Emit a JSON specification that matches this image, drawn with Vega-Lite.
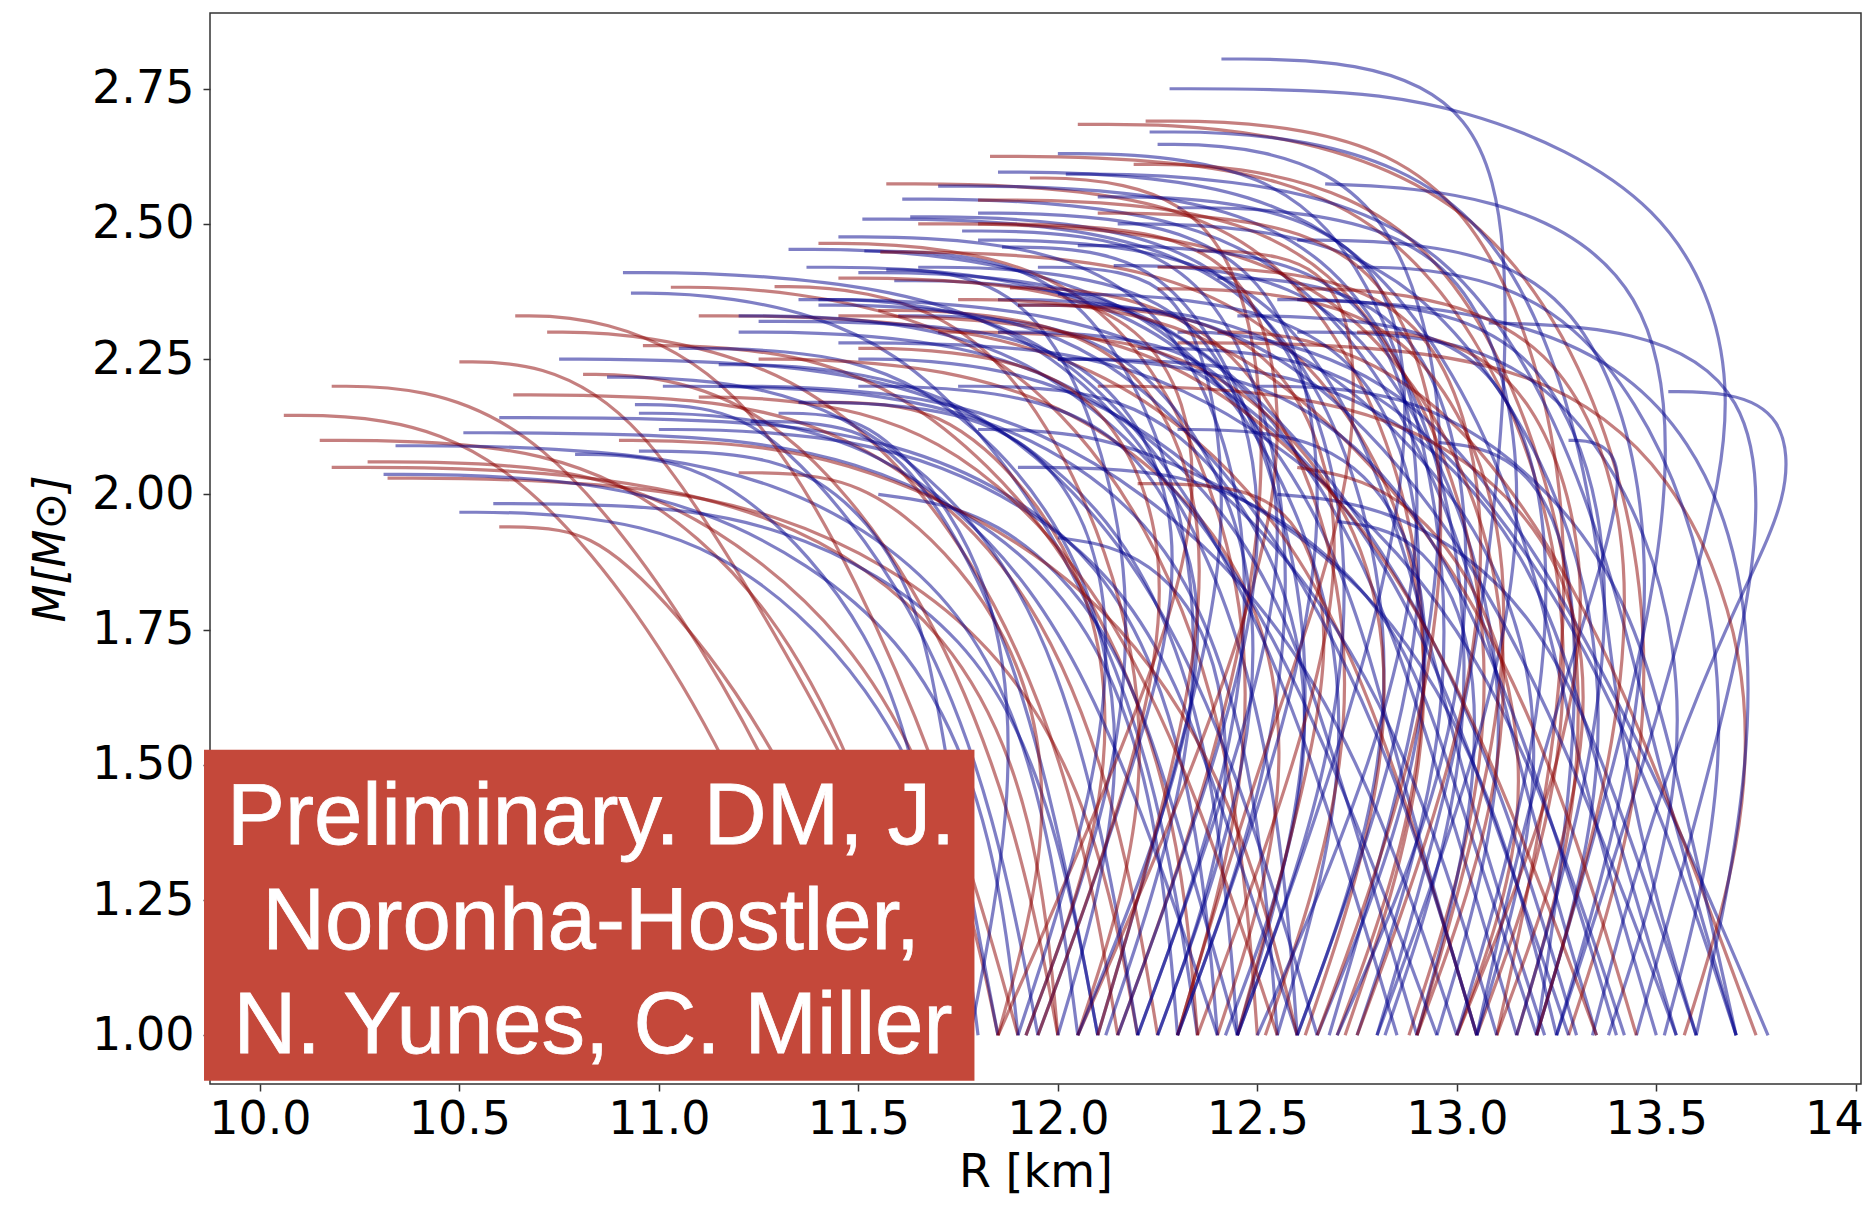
{
"$schema": "https://vega.github.io/schema/vega-lite/v6.json",
"width": 1651,
"height": 1071,
"autosize": {"type": "none"},
"padding": {"left": 210, "top": 13, "right": 4, "bottom": 121},
"background": "white",
"config": {"view": {"stroke": "#333333", "strokeWidth": 1.5}},
"datasets": {
"curves": [
{"g":"r01","k":"r","r":11.45,"m":1},{"g":"r01","k":"r","r":11.25,"m":1.4},{"g":"r01","k":"r","r":10.95,"m":1.8},{"g":"r01","k":"r","r":10.6,"m":2.08},{"g":"r01","k":"r","r":10.3,"m":2.146},{"g":"r01","k":"r","r":10.06,"m":2.146},
{"g":"r02","k":"r","r":11.7,"m":1},{"g":"r02","k":"r","r":11.55,"m":1.4},{"g":"r02","k":"r","r":11.3,"m":1.8},{"g":"r02","k":"r","r":10.9,"m":2.05},{"g":"r02","k":"r","r":10.5,"m":2.1},{"g":"r02","k":"r","r":10.15,"m":2.1},
{"g":"r03","k":"r","r":11.55,"m":1},{"g":"r03","k":"r","r":11.35,"m":1.4},{"g":"r03","k":"r","r":11.05,"m":1.8},{"g":"r03","k":"r","r":10.7,"m":2.12},{"g":"r03","k":"r","r":10.4,"m":2.2},{"g":"r03","k":"r","r":10.18,"m":2.2},
{"g":"r04","k":"r","r":12.0,"m":1},{"g":"r04","k":"r","r":11.95,"m":1.4},{"g":"r04","k":"r","r":11.75,"m":1.75},{"g":"r04","k":"r","r":11.3,"m":1.98},{"g":"r04","k":"r","r":10.7,"m":2.05},{"g":"r04","k":"r","r":10.18,"m":2.05},
{"g":"r05","k":"r","r":11.85,"m":1},{"g":"r05","k":"r","r":11.75,"m":1.35},{"g":"r05","k":"r","r":11.5,"m":1.75},{"g":"r05","k":"r","r":11.0,"m":2.02},{"g":"r05","k":"r","r":10.6,"m":2.06},{"g":"r05","k":"r","r":10.27,"m":2.06},
{"g":"r06","k":"r","r":12.2,"m":1},{"g":"r06","k":"r","r":12.1,"m":1.4},{"g":"r06","k":"r","r":11.85,"m":1.75},{"g":"r06","k":"r","r":11.3,"m":1.99},{"g":"r06","k":"r","r":10.7,"m":2.03},{"g":"r06","k":"r","r":10.32,"m":2.03},
{"g":"b01","k":"b","r":12.05,"m":1},{"g":"b01","k":"b","r":11.98,"m":1.4},{"g":"b01","k":"b","r":11.8,"m":1.8},{"g":"b01","k":"b","r":11.3,"m":2.05},{"g":"b01","k":"b","r":10.7,"m":2.09},{"g":"b01","k":"b","r":10.34,"m":2.09},
{"g":"b02","k":"b","r":11.9,"m":1},{"g":"b02","k":"b","r":11.85,"m":1.35},{"g":"b02","k":"b","r":11.65,"m":1.75},{"g":"b02","k":"b","r":11.1,"m":2.0},{"g":"b02","k":"b","r":10.6,"m":2.037},{"g":"b02","k":"b","r":10.31,"m":2.037},
{"g":"r07","k":"r","r":11.75,"m":1},{"g":"r07","k":"r","r":11.55,"m":1.4},{"g":"r07","k":"r","r":11.25,"m":1.8},{"g":"r07","k":"r","r":10.95,"m":2.15},{"g":"r07","k":"r","r":10.7,"m":2.245},{"g":"r07","k":"r","r":10.5,"m":2.245},
{"g":"b03","k":"b","r":12.3,"m":1},{"g":"b03","k":"b","r":12.25,"m":1.45},{"g":"b03","k":"b","r":12.05,"m":1.85},{"g":"b03","k":"b","r":11.5,"m":2.09},{"g":"b03","k":"b","r":10.9,"m":2.114},{"g":"b03","k":"b","r":10.51,"m":2.114},
{"g":"r08","k":"r","r":11.9,"m":1},{"g":"r08","k":"r","r":11.75,"m":1.4},{"g":"r08","k":"r","r":11.5,"m":1.85},{"g":"r08","k":"r","r":11.2,"m":2.22},{"g":"r08","k":"r","r":10.85,"m":2.33},{"g":"r08","k":"r","r":10.64,"m":2.33},
{"g":"r09","k":"r","r":12.15,"m":1},{"g":"r09","k":"r","r":12.05,"m":1.45},{"g":"r09","k":"r","r":11.8,"m":1.9},{"g":"r09","k":"r","r":11.4,"m":2.22},{"g":"r09","k":"r","r":10.95,"m":2.3},{"g":"r09","k":"r","r":10.72,"m":2.3},
{"g":"b04","k":"b","r":11.8,"m":1},{"g":"b04","k":"b","r":11.75,"m":1.3},{"g":"b04","k":"b","r":11.55,"m":1.65},{"g":"b04","k":"b","r":11.15,"m":1.92},{"g":"b04","k":"b","r":10.75,"m":1.967},{"g":"b04","k":"b","r":10.5,"m":1.967},
{"g":"b05","k":"b","r":12.1,"m":1},{"g":"b05","k":"b","r":12.0,"m":1.4},{"g":"b05","k":"b","r":11.8,"m":1.75},{"g":"b05","k":"b","r":11.3,"m":1.96},{"g":"b05","k":"b","r":10.85,"m":1.983},{"g":"b05","k":"b","r":10.585,"m":1.983},
{"g":"r10","k":"r","r":11.6,"m":1},{"g":"r10","k":"r","r":11.45,"m":1.3},{"g":"r10","k":"r","r":11.2,"m":1.65},{"g":"r10","k":"r","r":10.9,"m":1.9},{"g":"r10","k":"r","r":10.75,"m":1.94},{"g":"r10","k":"r","r":10.6,"m":1.94},
{"g":"b06","k":"b","r":12.4,"m":1},{"g":"b06","k":"b","r":12.35,"m":1.45},{"g":"b06","k":"b","r":12.15,"m":1.9},{"g":"b06","k":"b","r":11.6,"m":2.12},{"g":"b06","k":"b","r":11.0,"m":2.142},{"g":"b06","k":"b","r":10.6,"m":2.142},
{"g":"r11","k":"r","r":12.25,"m":1},{"g":"r11","k":"r","r":12.15,"m":1.45},{"g":"r11","k":"r","r":11.9,"m":1.9},{"g":"r11","k":"r","r":11.4,"m":2.16},{"g":"r11","k":"r","r":10.9,"m":2.184},{"g":"r11","k":"r","r":10.635,"m":2.184},
{"g":"b07","k":"b","r":12.45,"m":1},{"g":"b07","k":"b","r":12.4,"m":1.5},{"g":"b07","k":"b","r":12.2,"m":1.95},{"g":"b07","k":"b","r":11.7,"m":2.22},{"g":"b07","k":"b","r":11.05,"m":2.25},{"g":"b07","k":"b","r":10.75,"m":2.25},
{"g":"b08","k":"b","r":12.6,"m":1},{"g":"b08","k":"b","r":12.55,"m":1.5},{"g":"b08","k":"b","r":12.35,"m":2.0},{"g":"b08","k":"b","r":11.9,"m":2.35},{"g":"b08","k":"b","r":11.25,"m":2.41},{"g":"b08","k":"b","r":10.91,"m":2.41},
{"g":"b09","k":"b","r":12.35,"m":1},{"g":"b09","k":"b","r":12.25,"m":1.5},{"g":"b09","k":"b","r":12.0,"m":1.95},{"g":"b09","k":"b","r":11.6,"m":2.3},{"g":"b09","k":"b","r":11.15,"m":2.372},{"g":"b09","k":"b","r":10.93,"m":2.372},
{"g":"r12","k":"r","r":12.5,"m":1},{"g":"r12","k":"r","r":12.45,"m":1.5},{"g":"r12","k":"r","r":12.25,"m":1.95},{"g":"r12","k":"r","r":11.85,"m":2.3},{"g":"r12","k":"r","r":11.3,"m":2.383},{"g":"r12","k":"r","r":11.03,"m":2.383},
{"g":"r13","k":"r","r":12.0,"m":1},{"g":"r13","k":"r","r":11.9,"m":1.4},{"g":"r13","k":"r","r":11.65,"m":1.85},{"g":"r13","k":"r","r":11.3,"m":2.15},{"g":"r13","k":"r","r":11.0,"m":2.222},{"g":"r13","k":"r","r":10.81,"m":2.222},
{"g":"b10","k":"b","r":12.2,"m":1},{"g":"b10","k":"b","r":12.1,"m":1.45},{"g":"b10","k":"b","r":11.9,"m":1.9},{"g":"b10","k":"b","r":11.45,"m":2.18},{"g":"b10","k":"b","r":11.05,"m":2.217},{"g":"b10","k":"b","r":10.87,"m":2.217},
{"g":"b11","k":"b","r":11.95,"m":1},{"g":"b11","k":"b","r":11.85,"m":1.4},{"g":"b11","k":"b","r":11.65,"m":1.8},{"g":"b11","k":"b","r":11.3,"m":2.12},{"g":"b11","k":"b","r":11.1,"m":2.166},{"g":"b11","k":"b","r":10.94,"m":2.166},
{"g":"b12","k":"b","r":11.72,"m":1},{"g":"b12","k":"b","r":11.68,"m":1.4},{"g":"b12","k":"b","r":11.55,"m":1.75},{"g":"b12","k":"b","r":11.2,"m":2.03},{"g":"b12","k":"b","r":10.95,"m":2.074},{"g":"b12","k":"b","r":10.79,"m":2.074},
{"g":"r14","k":"r","r":12.35,"m":1},{"g":"r14","k":"r","r":12.3,"m":1.45},{"g":"r14","k":"r","r":12.05,"m":1.9},{"g":"r14","k":"r","r":11.6,"m":2.22},{"g":"r14","k":"r","r":11.2,"m":2.275},{"g":"r14","k":"r","r":10.96,"m":2.275},
{"g":"b13","k":"b","r":12.55,"m":1},{"g":"b13","k":"b","r":12.5,"m":1.5},{"g":"b13","k":"b","r":12.3,"m":1.95},{"g":"b13","k":"b","r":11.8,"m":2.17},{"g":"b13","k":"b","r":11.3,"m":2.2},{"g":"b13","k":"b","r":11.01,"m":2.2},
{"g":"b14","k":"b","r":12.1,"m":1},{"g":"b14","k":"b","r":12.0,"m":1.4},{"g":"b14","k":"b","r":11.85,"m":1.8},{"g":"b14","k":"b","r":11.6,"m":2.1},{"g":"b14","k":"b","r":11.4,"m":2.135},{"g":"b14","k":"b","r":11.23,"m":2.135},
{"g":"b15","k":"b","r":12.55,"m":1},{"g":"b15","k":"b","r":12.75,"m":1.5},{"g":"b15","k":"b","r":12.65,"m":1.95},{"g":"b15","k":"b","r":12.3,"m":2.35},{"g":"b15","k":"b","r":11.7,"m":2.453},{"g":"b15","k":"b","r":11.325,"m":2.453},
{"g":"r15","k":"r","r":12.3,"m":1},{"g":"r15","k":"r","r":12.5,"m":1.5},{"g":"r15","k":"r","r":12.45,"m":1.95},{"g":"r15","k":"r","r":12.15,"m":2.38},{"g":"r15","k":"r","r":11.7,"m":2.464},{"g":"r15","k":"r","r":11.4,"m":2.464},
{"g":"b16","k":"b","r":13.05,"m":1},{"g":"b16","k":"b","r":12.85,"m":1.5},{"g":"b16","k":"b","r":12.7,"m":1.95},{"g":"b16","k":"b","r":12.3,"m":2.33},{"g":"b16","k":"b","r":11.75,"m":2.42},{"g":"b16","k":"b","r":11.37,"m":2.42},
{"g":"r16","k":"r","r":12.05,"m":1},{"g":"r16","k":"r","r":12.25,"m":1.45},{"g":"r16","k":"r","r":12.15,"m":1.9},{"g":"r16","k":"r","r":11.85,"m":2.3},{"g":"r16","k":"r","r":11.5,"m":2.384},{"g":"r16","k":"r","r":11.29,"m":2.384},
{"g":"b17","k":"b","r":12.12,"m":1},{"g":"b17","k":"b","r":12.35,"m":1.5},{"g":"b17","k":"b","r":12.35,"m":1.95},{"g":"b17","k":"b","r":12.1,"m":2.38},{"g":"b17","k":"b","r":11.75,"m":2.45},{"g":"b17","k":"b","r":11.515,"m":2.45},
{"g":"r17","k":"r","r":12.72,"m":1},{"g":"r17","k":"r","r":12.95,"m":1.5},{"g":"r17","k":"r","r":12.9,"m":2.0},{"g":"r17","k":"r","r":12.5,"m":2.38},{"g":"r17","k":"r","r":11.95,"m":2.448},{"g":"r17","k":"r","r":11.555,"m":2.448},
{"g":"b18","k":"b","r":11.92,"m":1},{"g":"b18","k":"b","r":12.15,"m":1.45},{"g":"b18","k":"b","r":12.2,"m":1.9},{"g":"b18","k":"b","r":12.0,"m":2.33},{"g":"b18","k":"b","r":11.75,"m":2.415},{"g":"b18","k":"b","r":11.57,"m":2.415},
{"g":"b19","k":"b","r":13.15,"m":1},{"g":"b19","k":"b","r":12.95,"m":1.5},{"g":"b19","k":"b","r":12.75,"m":1.95},{"g":"b19","k":"b","r":12.35,"m":2.32},{"g":"b19","k":"b","r":11.9,"m":2.395},{"g":"b19","k":"b","r":11.59,"m":2.395},
{"g":"r18","k":"r","r":12.52,"m":1},{"g":"r18","k":"r","r":12.75,"m":1.5},{"g":"r18","k":"r","r":12.7,"m":1.95},{"g":"r18","k":"r","r":12.45,"m":2.3},{"g":"r18","k":"r","r":12.1,"m":2.382},{"g":"r18","k":"r","r":11.88,"m":2.382},
{"g":"b20","k":"b","r":12.95,"m":1},{"g":"b20","k":"b","r":13.15,"m":1.5},{"g":"b20","k":"b","r":13.05,"m":1.95},{"g":"b20","k":"b","r":12.75,"m":2.35},{"g":"b20","k":"b","r":12.4,"m":2.423},{"g":"b20","k":"b","r":12.14,"m":2.423},
{"g":"b21","k":"b","r":12.2,"m":1},{"g":"b21","k":"b","r":12.45,"m":1.5},{"g":"b21","k":"b","r":12.5,"m":2.0},{"g":"b21","k":"b","r":12.25,"m":2.4},{"g":"b21","k":"b","r":11.8,"m":2.476},{"g":"b21","k":"b","r":11.45,"m":2.476},
{"g":"b22","k":"b","r":12.6,"m":1},{"g":"b22","k":"b","r":12.85,"m":1.5},{"g":"b22","k":"b","r":12.8,"m":2.0},{"g":"b22","k":"b","r":12.5,"m":2.42},{"g":"b22","k":"b","r":11.95,"m":2.509},{"g":"b22","k":"b","r":11.51,"m":2.509},
{"g":"b23","k":"b","r":12.45,"m":1},{"g":"b23","k":"b","r":12.7,"m":1.5},{"g":"b23","k":"b","r":12.75,"m":2.0},{"g":"b23","k":"b","r":12.5,"m":2.43},{"g":"b23","k":"b","r":12.0,"m":2.513},{"g":"b23","k":"b","r":11.63,"m":2.513},
{"g":"b24","k":"b","r":13.35,"m":1},{"g":"b24","k":"b","r":13.15,"m":1.5},{"g":"b24","k":"b","r":13.0,"m":2.0},{"g":"b24","k":"b","r":12.6,"m":2.47},{"g":"b24","k":"b","r":12.0,"m":2.546},{"g":"b24","k":"b","r":11.61,"m":2.546},
{"g":"r19","k":"r","r":12.7,"m":1},{"g":"r19","k":"r","r":12.95,"m":1.5},{"g":"r19","k":"r","r":12.9,"m":2.05},{"g":"r19","k":"r","r":12.55,"m":2.5},{"g":"r19","k":"r","r":12.0,"m":2.574},{"g":"r19","k":"r","r":11.57,"m":2.574},
{"g":"b25","k":"b","r":12.82,"m":1},{"g":"b25","k":"b","r":13.05,"m":1.5},{"g":"b25","k":"b","r":13.0,"m":2.05},{"g":"b25","k":"b","r":12.7,"m":2.49},{"g":"b25","k":"b","r":12.15,"m":2.57},{"g":"b25","k":"b","r":11.7,"m":2.57},
{"g":"b26","k":"b","r":12.3,"m":1},{"g":"b26","k":"b","r":12.55,"m":1.5},{"g":"b26","k":"b","r":12.6,"m":2.0},{"g":"b26","k":"b","r":12.4,"m":2.42},{"g":"b26","k":"b","r":12.05,"m":2.487},{"g":"b26","k":"b","r":11.76,"m":2.487},
{"g":"b27","k":"b","r":13.22,"m":1},{"g":"b27","k":"b","r":13.0,"m":1.5},{"g":"b27","k":"b","r":12.85,"m":2.0},{"g":"b27","k":"b","r":12.55,"m":2.4},{"g":"b27","k":"b","r":12.1,"m":2.47},{"g":"b27","k":"b","r":11.8,"m":2.47},
{"g":"b28","k":"b","r":12.45,"m":1},{"g":"b28","k":"b","r":12.65,"m":1.5},{"g":"b28","k":"b","r":12.6,"m":1.95},{"g":"b28","k":"b","r":12.35,"m":2.38},{"g":"b28","k":"b","r":12.1,"m":2.457},{"g":"b28","k":"b","r":11.86,"m":2.457},
{"g":"r20","k":"r","r":13.05,"m":1},{"g":"r20","k":"r","r":13.3,"m":1.5},{"g":"r20","k":"r","r":13.25,"m":2.05},{"g":"r20","k":"r","r":12.85,"m":2.55},{"g":"r20","k":"r","r":12.25,"m":2.625},{"g":"r20","k":"r","r":11.83,"m":2.625},
{"g":"b29","k":"b","r":13.5,"m":1},{"g":"b29","k":"b","r":13.3,"m":1.5},{"g":"b29","k":"b","r":13.15,"m":2.05},{"g":"b29","k":"b","r":12.75,"m":2.52},{"g":"b29","k":"b","r":12.2,"m":2.596},{"g":"b29","k":"b","r":11.85,"m":2.596},
{"g":"b30","k":"b","r":12.75,"m":1},{"g":"b30","k":"b","r":13.0,"m":1.55},{"g":"b30","k":"b","r":12.95,"m":2.1},{"g":"b30","k":"b","r":12.7,"m":2.55},{"g":"b30","k":"b","r":12.3,"m":2.63},{"g":"b30","k":"b","r":12.0,"m":2.63},
{"g":"r21","k":"r","r":12.15,"m":1},{"g":"r21","k":"r","r":12.4,"m":1.5},{"g":"r21","k":"r","r":12.55,"m":2.05},{"g":"r21","k":"r","r":12.45,"m":2.5},{"g":"r21","k":"r","r":12.15,"m":2.585},{"g":"r21","k":"r","r":11.93,"m":2.585},
{"g":"r22","k":"r","r":12.88,"m":1},{"g":"r22","k":"r","r":13.1,"m":1.5},{"g":"r22","k":"r","r":13.05,"m":2.0},{"g":"r22","k":"r","r":12.7,"m":2.47},{"g":"r22","k":"r","r":12.2,"m":2.544},{"g":"r22","k":"r","r":11.8,"m":2.544},
{"g":"b31","k":"b","r":12.8,"m":1},{"g":"b31","k":"b","r":13.0,"m":1.5},{"g":"b31","k":"b","r":13.1,"m":1.95},{"g":"b31","k":"b","r":13.14,"m":2.45},{"g":"b31","k":"b","r":13.05,"m":2.72},{"g":"b31","k":"b","r":12.75,"m":2.805},{"g":"b31","k":"b","r":12.41,"m":2.805},
{"g":"b32","k":"b","r":13.25,"m":1},{"g":"b32","k":"b","r":13.45,"m":1.45},{"g":"b32","k":"b","r":13.6,"m":1.85},{"g":"b32","k":"b","r":13.72,"m":2.2},{"g":"b32","k":"b","r":13.55,"m":2.55},{"g":"b32","k":"b","r":13.0,"m":2.73},{"g":"b32","k":"b","r":12.6,"m":2.75},{"g":"b32","k":"b","r":12.28,"m":2.75},
{"g":"r23","k":"r","r":13.28,"m":1},{"g":"r23","k":"r","r":13.5,"m":1.5},{"g":"r23","k":"r","r":13.45,"m":2.05},{"g":"r23","k":"r","r":13.1,"m":2.55},{"g":"r23","k":"r","r":12.5,"m":2.684},{"g":"r23","k":"r","r":12.05,"m":2.684},
{"g":"r24","k":"r","r":13.1,"m":1},{"g":"r24","k":"r","r":13.25,"m":1.5},{"g":"r24","k":"r","r":13.3,"m":2.05},{"g":"r24","k":"r","r":13.05,"m":2.58},{"g":"r24","k":"r","r":12.6,"m":2.69},{"g":"r24","k":"r","r":12.22,"m":2.69},
{"g":"b33","k":"b","r":13.6,"m":1},{"g":"b33","k":"b","r":13.4,"m":1.5},{"g":"b33","k":"b","r":13.35,"m":2.05},{"g":"b33","k":"b","r":13.1,"m":2.55},{"g":"b33","k":"b","r":12.6,"m":2.67},{"g":"b33","k":"b","r":12.23,"m":2.67},
{"g":"b34","k":"b","r":12.68,"m":1},{"g":"b34","k":"b","r":12.9,"m":1.55},{"g":"b34","k":"b","r":13.0,"m":2.1},{"g":"b34","k":"b","r":12.85,"m":2.55},{"g":"b34","k":"b","r":12.5,"m":2.647},{"g":"b34","k":"b","r":12.25,"m":2.647},
{"g":"r25","k":"r","r":13.15,"m":1},{"g":"r25","k":"r","r":13.35,"m":1.5},{"g":"r25","k":"r","r":13.25,"m":2.05},{"g":"r25","k":"r","r":12.95,"m":2.5},{"g":"r25","k":"r","r":12.5,"m":2.61},{"g":"r25","k":"r","r":12.19,"m":2.61},
{"g":"b35","k":"b","r":13.7,"m":1},{"g":"b35","k":"b","r":13.5,"m":1.5},{"g":"b35","k":"b","r":13.35,"m":2.0},{"g":"b35","k":"b","r":13.0,"m":2.5},{"g":"b35","k":"b","r":12.4,"m":2.592},{"g":"b35","k":"b","r":12.02,"m":2.592},
{"g":"b36","k":"b","r":13.2,"m":1},{"g":"b36","k":"b","r":13.4,"m":1.5},{"g":"b36","k":"b","r":13.55,"m":2.0},{"g":"b36","k":"b","r":13.5,"m":2.4},{"g":"b36","k":"b","r":13.1,"m":2.56},{"g":"b36","k":"b","r":12.67,"m":2.574},
{"g":"b37","k":"b","r":13.34,"m":1},{"g":"b37","k":"b","r":13.5,"m":1.45},{"g":"b37","k":"b","r":13.7,"m":1.8},{"g":"b37","k":"b","r":13.84,"m":2.0},{"g":"b37","k":"b","r":13.82,"m":2.15},{"g":"b37","k":"b","r":13.68,"m":2.19},{"g":"b37","k":"b","r":13.53,"m":2.19},
{"g":"b38","k":"b","r":13.45,"m":1},{"g":"b38","k":"b","r":13.62,"m":1.45},{"g":"b38","k":"b","r":13.77,"m":1.9},{"g":"b38","k":"b","r":13.74,"m":2.2},{"g":"b38","k":"b","r":13.45,"m":2.31},{"g":"b38","k":"b","r":13.08,"m":2.317},
{"g":"b39","k":"b","r":13.05,"m":1},{"g":"b39","k":"b","r":13.2,"m":1.5},{"g":"b39","k":"b","r":13.38,"m":1.9},{"g":"b39","k":"b","r":13.42,"m":2.06},{"g":"b39","k":"b","r":13.35,"m":2.1},{"g":"b39","k":"b","r":13.28,"m":2.1},
{"g":"b40","k":"b","r":13.2,"m":1},{"g":"b40","k":"b","r":13.3,"m":1.5},{"g":"b40","k":"b","r":13.3,"m":1.9},{"g":"b40","k":"b","r":13.15,"m":2.08},{"g":"b40","k":"b","r":12.955,"m":2.096},
{"g":"b41","k":"b","r":13.78,"m":1},{"g":"b41","k":"b","r":13.55,"m":1.4},{"g":"b41","k":"b","r":13.25,"m":1.85},{"g":"b41","k":"b","r":12.9,"m":2.2},{"g":"b41","k":"b","r":12.5,"m":2.3},{"g":"b41","k":"b","r":12.3,"m":2.3},
{"g":"b42","k":"b","r":13.7,"m":1},{"g":"b42","k":"b","r":13.5,"m":1.45},{"g":"b42","k":"b","r":13.2,"m":1.9},{"g":"b42","k":"b","r":12.8,"m":2.22},{"g":"b42","k":"b","r":12.45,"m":2.27},{"g":"b42","k":"b","r":12.2,"m":2.27},
{"g":"r26","k":"r","r":13.75,"m":1},{"g":"r26","k":"r","r":13.55,"m":1.4},{"g":"r26","k":"r","r":13.3,"m":1.85},{"g":"r26","k":"r","r":12.95,"m":2.2},{"g":"r26","k":"r","r":12.6,"m":2.3},{"g":"r26","k":"r","r":12.4,"m":2.3},
{"g":"r27","k":"r","r":13.57,"m":1},{"g":"r27","k":"r","r":13.72,"m":1.35},{"g":"r27","k":"r","r":13.74,"m":1.7},{"g":"r27","k":"r","r":13.55,"m":2.05},{"g":"r27","k":"r","r":13.2,"m":2.24},{"g":"r27","k":"r","r":12.7,"m":2.28},{"g":"r27","k":"r","r":12.3,"m":2.28},
{"g":"b43","k":"b","r":13.6,"m":1},{"g":"b43","k":"b","r":13.75,"m":1.5},{"g":"b43","k":"b","r":13.72,"m":1.95},{"g":"b43","k":"b","r":13.45,"m":2.25},{"g":"b43","k":"b","r":13.0,"m":2.35},{"g":"b43","k":"b","r":12.6,"m":2.36},
{"g":"b44","k":"b","r":12.9,"m":1},{"g":"b44","k":"b","r":12.7,"m":1.5},{"g":"b44","k":"b","r":12.5,"m":1.95},{"g":"b44","k":"b","r":12.0,"m":2.25},{"g":"b44","k":"b","r":11.5,"m":2.3},{"g":"b44","k":"b","r":11.2,"m":2.3},
{"g":"r28","k":"r","r":13.05,"m":1},{"g":"r28","k":"r","r":12.85,"m":1.5},{"g":"r28","k":"r","r":12.6,"m":1.95},{"g":"r28","k":"r","r":12.1,"m":2.27},{"g":"r28","k":"r","r":11.5,"m":2.33},{"g":"r28","k":"r","r":11.1,"m":2.33},
{"g":"b45","k":"b","r":13.28,"m":1},{"g":"b45","k":"b","r":13.05,"m":1.5},{"g":"b45","k":"b","r":12.8,"m":1.95},{"g":"b45","k":"b","r":12.3,"m":2.3},{"g":"b45","k":"b","r":11.7,"m":2.36},{"g":"b45","k":"b","r":11.35,"m":2.36},
{"g":"b46","k":"b","r":12.0,"m":1},{"g":"b46","k":"b","r":12.2,"m":1.5},{"g":"b46","k":"b","r":12.05,"m":1.95},{"g":"b46","k":"b","r":11.65,"m":2.23},{"g":"b46","k":"b","r":11.3,"m":2.27},{"g":"b46","k":"b","r":11.05,"m":2.27},
{"g":"r29","k":"r","r":12.4,"m":1},{"g":"r29","k":"r","r":12.6,"m":1.45},{"g":"r29","k":"r","r":12.5,"m":1.9},{"g":"r29","k":"r","r":12.0,"m":2.2},{"g":"r29","k":"r","r":11.5,"m":2.25},{"g":"r29","k":"r","r":11.25,"m":2.25},
{"g":"b47","k":"b","r":12.25,"m":1},{"g":"b47","k":"b","r":12.5,"m":1.5},{"g":"b47","k":"b","r":12.5,"m":1.95},{"g":"b47","k":"b","r":12.2,"m":2.28},{"g":"b47","k":"b","r":11.85,"m":2.33},{"g":"b47","k":"b","r":11.6,"m":2.33},
{"g":"b48","k":"b","r":13.42,"m":1},{"g":"b48","k":"b","r":13.2,"m":1.5},{"g":"b48","k":"b","r":12.9,"m":1.9},{"g":"b48","k":"b","r":12.3,"m":2.24},{"g":"b48","k":"b","r":11.8,"m":2.28},{"g":"b48","k":"b","r":11.45,"m":2.28},
{"g":"r30","k":"r","r":12.62,"m":1},{"g":"r30","k":"r","r":12.85,"m":1.5},{"g":"r30","k":"r","r":12.8,"m":1.95},{"g":"r30","k":"r","r":12.4,"m":2.26},{"g":"r30","k":"r","r":12.0,"m":2.3},{"g":"r30","k":"r","r":11.7,"m":2.3},
{"g":"b49","k":"b","r":13.05,"m":1},{"g":"b49","k":"b","r":13.25,"m":1.5},{"g":"b49","k":"b","r":13.1,"m":1.95},{"g":"b49","k":"b","r":12.6,"m":2.3},{"g":"b49","k":"b","r":12.2,"m":2.35},{"g":"b49","k":"b","r":11.9,"m":2.35},
{"g":"b50","k":"b","r":13.0,"m":1},{"g":"b50","k":"b","r":12.8,"m":1.45},{"g":"b50","k":"b","r":12.5,"m":1.85},{"g":"b50","k":"b","r":11.95,"m":2.15},{"g":"b50","k":"b","r":11.45,"m":2.2},{"g":"b50","k":"b","r":11.15,"m":2.2},
{"g":"r31","k":"r","r":11.92,"m":1},{"g":"r31","k":"r","r":12.15,"m":1.45},{"g":"r31","k":"r","r":12.1,"m":1.85},{"g":"r31","k":"r","r":11.8,"m":2.12},{"g":"r31","k":"r","r":11.6,"m":2.17},{"g":"r31","k":"r","r":11.4,"m":2.17},
{"g":"b51","k":"b","r":13.55,"m":1},{"g":"b51","k":"b","r":13.35,"m":1.5},{"g":"b51","k":"b","r":13.2,"m":1.9},{"g":"b51","k":"b","r":12.8,"m":2.2},{"g":"b51","k":"b","r":12.3,"m":2.25},{"g":"b51","k":"b","r":12.0,"m":2.25},
{"g":"b52","k":"b","r":12.42,"m":1},{"g":"b52","k":"b","r":12.65,"m":1.45},{"g":"b52","k":"b","r":12.6,"m":1.85},{"g":"b52","k":"b","r":12.3,"m":2.15},{"g":"b52","k":"b","r":12.0,"m":2.2},{"g":"b52","k":"b","r":11.75,"m":2.2},
{"g":"r32","k":"r","r":13.1,"m":1},{"g":"r32","k":"r","r":13.35,"m":1.5},{"g":"r32","k":"r","r":13.3,"m":1.9},{"g":"r32","k":"r","r":12.9,"m":2.15},{"g":"r32","k":"r","r":12.4,"m":2.2},{"g":"r32","k":"r","r":12.1,"m":2.2},
{"g":"b53","k":"b","r":12.65,"m":1},{"g":"b53","k":"b","r":12.9,"m":1.45},{"g":"b53","k":"b","r":12.95,"m":1.85},{"g":"b53","k":"b","r":12.75,"m":2.08},{"g":"b53","k":"b","r":12.5,"m":2.12},{"g":"b53","k":"b","r":12.3,"m":2.12},
{"g":"b54","k":"b","r":13.2,"m":1},{"g":"b54","k":"b","r":13.0,"m":1.45},{"g":"b54","k":"b","r":12.85,"m":1.8},{"g":"b54","k":"b","r":12.45,"m":2.02},{"g":"b54","k":"b","r":12.15,"m":2.05},{"g":"b54","k":"b","r":11.9,"m":2.05},
{"g":"r33","k":"r","r":12.45,"m":1},{"g":"r33","k":"r","r":12.6,"m":1.4},{"g":"r33","k":"r","r":12.7,"m":1.75},{"g":"r33","k":"r","r":12.6,"m":1.98},{"g":"r33","k":"r","r":12.4,"m":2.02},{"g":"r33","k":"r","r":12.2,"m":2.02},
{"g":"b55","k":"b","r":13.7,"m":1},{"g":"b55","k":"b","r":13.55,"m":1.5},{"g":"b55","k":"b","r":13.4,"m":1.9},{"g":"b55","k":"b","r":13.0,"m":2.16},{"g":"b55","k":"b","r":12.7,"m":2.2},{"g":"b55","k":"b","r":12.5,"m":2.2},
{"g":"b56","k":"b","r":12.6,"m":1},{"g":"b56","k":"b","r":12.4,"m":1.45},{"g":"b56","k":"b","r":12.2,"m":1.85},{"g":"b56","k":"b","r":11.7,"m":2.08},{"g":"b56","k":"b","r":11.25,"m":2.12},{"g":"b56","k":"b","r":11.0,"m":2.12},
{"g":"r34","k":"r","r":11.85,"m":1},{"g":"r34","k":"r","r":12.0,"m":1.4},{"g":"r34","k":"r","r":11.9,"m":1.75},{"g":"r34","k":"r","r":11.6,"m":1.99},{"g":"r34","k":"r","r":11.4,"m":2.04},{"g":"r34","k":"r","r":11.2,"m":2.04},
{"g":"b57","k":"b","r":13.38,"m":1},{"g":"b57","k":"b","r":13.6,"m":1.5},{"g":"b57","k":"b","r":13.5,"m":1.95},{"g":"b57","k":"b","r":13.2,"m":2.25},{"g":"b57","k":"b","r":12.85,"m":2.3},{"g":"b57","k":"b","r":12.6,"m":2.3},
{"g":"b58","k":"b","r":12.7,"m":1},{"g":"b58","k":"b","r":13.0,"m":1.5},{"g":"b58","k":"b","r":13.05,"m":2.0},{"g":"b58","k":"b","r":12.9,"m":2.33},{"g":"b58","k":"b","r":12.6,"m":2.4},{"g":"b58","k":"b","r":12.4,"m":2.4},
{"g":"r35","k":"r","r":12.3,"m":1},{"g":"r35","k":"r","r":12.5,"m":1.5},{"g":"r35","k":"r","r":12.75,"m":2.0},{"g":"r35","k":"r","r":12.75,"m":2.38},{"g":"r35","k":"r","r":12.55,"m":2.45},{"g":"r35","k":"r","r":12.35,"m":2.45},
{"g":"b59","k":"b","r":12.1,"m":1},{"g":"b59","k":"b","r":12.3,"m":1.5},{"g":"b59","k":"b","r":12.45,"m":1.95},{"g":"b59","k":"b","r":12.35,"m":2.36},{"g":"b59","k":"b","r":12.15,"m":2.42},{"g":"b59","k":"b","r":11.95,"m":2.42},
{"g":"b60","k":"b","r":13.2,"m":1},{"g":"b60","k":"b","r":13.4,"m":1.5},{"g":"b60","k":"b","r":13.3,"m":2.0},{"g":"b60","k":"b","r":12.9,"m":2.43},{"g":"b60","k":"b","r":12.45,"m":2.5},{"g":"b60","k":"b","r":12.15,"m":2.5},
{"g":"r36","k":"r","r":12.9,"m":1},{"g":"r36","k":"r","r":13.15,"m":1.5},{"g":"r36","k":"r","r":13.1,"m":2.0},{"g":"r36","k":"r","r":12.7,"m":2.42},{"g":"r36","k":"r","r":12.1,"m":2.5},{"g":"r36","k":"r","r":11.65,"m":2.5},
{"g":"b61","k":"b","r":11.78,"m":1},{"g":"b61","k":"b","r":11.9,"m":1.45},{"g":"b61","k":"b","r":11.85,"m":1.85},{"g":"b61","k":"b","r":11.6,"m":2.1},{"g":"b61","k":"b","r":11.45,"m":2.15},{"g":"b61","k":"b","r":11.3,"m":2.15},
{"g":"b62","k":"b","r":11.85,"m":1},{"g":"b62","k":"b","r":11.72,"m":1.5},{"g":"b62","k":"b","r":11.65,"m":1.85},{"g":"b62","k":"b","r":11.4,"m":2.05},{"g":"b62","k":"b","r":11.15,"m":2.08},{"g":"b62","k":"b","r":10.95,"m":2.08},
{"g":"r37","k":"r","r":13.0,"m":1},{"g":"r37","k":"r","r":13.2,"m":1.4},{"g":"r37","k":"r","r":13.1,"m":1.8},{"g":"r37","k":"r","r":12.85,"m":2.02},{"g":"r37","k":"r","r":12.6,"m":2.05},
{"g":"b63","k":"b","r":12.9,"m":1},{"g":"b63","k":"b","r":13.05,"m":1.4},{"g":"b63","k":"b","r":13.05,"m":1.75},{"g":"b63","k":"b","r":12.9,"m":1.93},{"g":"b63","k":"b","r":12.7,"m":1.95},
{"g":"b64","k":"b","r":12.25,"m":1},{"g":"b64","k":"b","r":12.45,"m":1.4},{"g":"b64","k":"b","r":12.4,"m":1.75},{"g":"b64","k":"b","r":12.2,"m":1.9},{"g":"b64","k":"b","r":12.0,"m":1.92},
{"g":"r38","k":"r","r":13.0,"m":1},{"g":"r38","k":"r","r":13.25,"m":1.45},{"g":"r38","k":"r","r":13.35,"m":1.85},{"g":"r38","k":"r","r":13.2,"m":2.2},{"g":"r38","k":"r","r":12.95,"m":2.3},{"g":"r38","k":"r","r":12.75,"m":2.3},
{"g":"b65","k":"b","r":13.6,"m":1},{"g":"b65","k":"b","r":13.4,"m":1.45},{"g":"b65","k":"b","r":13.2,"m":1.8},{"g":"b65","k":"b","r":12.85,"m":1.98},{"g":"b65","k":"b","r":12.55,"m":2.0},
{"g":"b66","k":"b","r":12.45,"m":1},{"g":"b66","k":"b","r":12.3,"m":1.4},{"g":"b66","k":"b","r":12.15,"m":1.75},{"g":"b66","k":"b","r":11.85,"m":1.97},{"g":"b66","k":"b","r":11.55,"m":2.0},
{"g":"r39","k":"r","r":12.6,"m":1},{"g":"r39","k":"r","r":12.45,"m":1.45},{"g":"r39","k":"r","r":12.1,"m":1.85},{"g":"r39","k":"r","r":11.5,"m":2.07},{"g":"r39","k":"r","r":11.1,"m":2.1},{"g":"r39","k":"r","r":10.9,"m":2.1},
{"g":"b67","k":"b","r":13.25,"m":1},{"g":"b67","k":"b","r":13.1,"m":1.45},{"g":"b67","k":"b","r":12.8,"m":1.85},{"g":"b67","k":"b","r":12.25,"m":2.09},{"g":"b67","k":"b","r":11.95,"m":2.12},{"g":"b67","k":"b","r":11.8,"m":2.12},
{"g":"r40","k":"r","r":11.85,"m":1},{"g":"r40","k":"r","r":12.15,"m":1.5},{"g":"r40","k":"r","r":12.4,"m":2.0},{"g":"r40","k":"r","r":12.25,"m":2.35},{"g":"r40","k":"r","r":11.75,"m":2.4},{"g":"r40","k":"r","r":11.45,"m":2.4},
{"g":"b68","k":"b","r":11.95,"m":1},{"g":"b68","k":"b","r":12.2,"m":1.5},{"g":"b68","k":"b","r":12.35,"m":1.95},{"g":"b68","k":"b","r":12.1,"m":2.28},{"g":"b68","k":"b","r":11.6,"m":2.32},{"g":"b68","k":"b","r":11.25,"m":2.32},
{"g":"r41","k":"r","r":12.05,"m":1},{"g":"r41","k":"r","r":12.35,"m":1.5},{"g":"r41","k":"r","r":12.6,"m":2.05},{"g":"r41","k":"r","r":12.5,"m":2.45},{"g":"r41","k":"r","r":12.1,"m":2.5},{"g":"r41","k":"r","r":11.8,"m":2.5},
{"g":"b69","k":"b","r":12.45,"m":1},{"g":"b69","k":"b","r":12.7,"m":1.5},{"g":"b69","k":"b","r":12.9,"m":2.05},{"g":"b69","k":"b","r":12.85,"m":2.45},{"g":"b69","k":"b","r":12.45,"m":2.55},{"g":"b69","k":"b","r":12.1,"m":2.55},
{"g":"b70","k":"b","r":13.52,"m":1},{"g":"b70","k":"b","r":13.7,"m":1.5},{"g":"b70","k":"b","r":13.6,"m":2.0},{"g":"b70","k":"b","r":13.3,"m":2.35},{"g":"b70","k":"b","r":12.95,"m":2.42},{"g":"b70","k":"b","r":12.75,"m":2.42},
{"g":"n01","k":"b","r":12.6,"m":1},{"g":"n01","k":"b","r":12.85,"m":1.5},{"g":"n01","k":"b","r":12.95,"m":1.95},{"g":"n01","k":"b","r":12.75,"m":2.3},{"g":"n01","k":"b","r":12.3,"m":2.37},{"g":"n01","k":"b","r":12.0,"m":2.37},
{"g":"n02","k":"r","r":12.9,"m":1},{"g":"n02","k":"r","r":13.1,"m":1.5},{"g":"n02","k":"r","r":13.15,"m":1.95},{"g":"n02","k":"r","r":12.9,"m":2.32},{"g":"n02","k":"r","r":12.5,"m":2.38},{"g":"n02","k":"r","r":12.25,"m":2.38},
{"g":"n03","k":"b","r":13.1,"m":1},{"g":"n03","k":"b","r":12.9,"m":1.5},{"g":"n03","k":"b","r":12.6,"m":1.9},{"g":"n03","k":"b","r":12.1,"m":2.2},{"g":"n03","k":"b","r":11.7,"m":2.25},{"g":"n03","k":"b","r":11.5,"m":2.25},
{"g":"n04","k":"b","r":12.2,"m":1},{"g":"n04","k":"b","r":12.45,"m":1.5},{"g":"n04","k":"b","r":12.6,"m":1.95},{"g":"n04","k":"b","r":12.45,"m":2.25},{"g":"n04","k":"b","r":12.1,"m":2.3},{"g":"n04","k":"b","r":11.85,"m":2.3},
{"g":"n05","k":"r","r":12.35,"m":1},{"g":"n05","k":"r","r":12.6,"m":1.5},{"g":"n05","k":"r","r":12.75,"m":1.95},{"g":"n05","k":"r","r":12.55,"m":2.3},{"g":"n05","k":"r","r":12.15,"m":2.35},{"g":"n05","k":"r","r":11.9,"m":2.35},
{"g":"n06","k":"b","r":13.3,"m":1},{"g":"n06","k":"b","r":13.1,"m":1.5},{"g":"n06","k":"b","r":12.8,"m":1.95},{"g":"n06","k":"b","r":12.3,"m":2.35},{"g":"n06","k":"b","r":11.8,"m":2.41},{"g":"n06","k":"b","r":11.5,"m":2.41},
{"g":"n07","k":"b","r":12.5,"m":1},{"g":"n07","k":"b","r":12.8,"m":1.5},{"g":"n07","k":"b","r":12.95,"m":2.0},{"g":"n07","k":"b","r":12.8,"m":2.4},{"g":"n07","k":"b","r":12.35,"m":2.46},{"g":"n07","k":"b","r":12.05,"m":2.46},
{"g":"n08","k":"r","r":13.35,"m":1},{"g":"n08","k":"r","r":13.1,"m":1.5},{"g":"n08","k":"r","r":12.8,"m":1.95},{"g":"n08","k":"r","r":12.3,"m":2.28},{"g":"n08","k":"r","r":11.75,"m":2.33},{"g":"n08","k":"r","r":11.45,"m":2.33},
{"g":"n09","k":"b","r":12.05,"m":1},{"g":"n09","k":"b","r":12.3,"m":1.45},{"g":"n09","k":"b","r":12.4,"m":1.85},{"g":"n09","k":"b","r":12.15,"m":2.15},{"g":"n09","k":"b","r":11.75,"m":2.2},{"g":"n09","k":"b","r":11.5,"m":2.2},
{"g":"n10","k":"b","r":13.55,"m":1},{"g":"n10","k":"b","r":13.3,"m":1.5},{"g":"n10","k":"b","r":13.0,"m":1.95},{"g":"n10","k":"b","r":12.55,"m":2.3},{"g":"n10","k":"b","r":12.1,"m":2.36},{"g":"n10","k":"b","r":11.85,"m":2.36},
{"g":"n11","k":"r","r":12.75,"m":1},{"g":"n11","k":"r","r":13.0,"m":1.5},{"g":"n11","k":"r","r":13.1,"m":1.95},{"g":"n11","k":"r","r":12.95,"m":2.35},{"g":"n11","k":"r","r":12.55,"m":2.42},{"g":"n11","k":"r","r":12.25,"m":2.42},
{"g":"n12","k":"b","r":12.8,"m":1},{"g":"n12","k":"b","r":13.05,"m":1.5},{"g":"n12","k":"b","r":13.2,"m":2.0},{"g":"n12","k":"b","r":13.05,"m":2.45},{"g":"n12","k":"b","r":12.6,"m":2.53},{"g":"n12","k":"b","r":12.3,"m":2.53},
{"g":"n13","k":"b","r":12.15,"m":1},{"g":"n13","k":"b","r":12.4,"m":1.5},{"g":"n13","k":"b","r":12.55,"m":1.95},{"g":"n13","k":"b","r":12.4,"m":2.35},{"g":"n13","k":"b","r":11.95,"m":2.42},{"g":"n13","k":"b","r":11.65,"m":2.42},
{"g":"n14","k":"r","r":13.45,"m":1},{"g":"n14","k":"r","r":13.25,"m":1.5},{"g":"n14","k":"r","r":12.95,"m":1.95},{"g":"n14","k":"r","r":12.45,"m":2.3},{"g":"n14","k":"r","r":12.0,"m":2.36},{"g":"n14","k":"r","r":11.75,"m":2.36},
{"g":"n15","k":"b","r":12.65,"m":1},{"g":"n15","k":"b","r":12.45,"m":1.5},{"g":"n15","k":"b","r":12.2,"m":1.9},{"g":"n15","k":"b","r":11.8,"m":2.18},{"g":"n15","k":"b","r":11.4,"m":2.24},{"g":"n15","k":"b","r":11.15,"m":2.24},
{"g":"n16","k":"b","r":12.95,"m":1},{"g":"n16","k":"b","r":12.7,"m":1.5},{"g":"n16","k":"b","r":12.4,"m":1.95},{"g":"n16","k":"b","r":11.95,"m":2.27},{"g":"n16","k":"b","r":11.5,"m":2.33},{"g":"n16","k":"b","r":11.2,"m":2.33},
{"g":"n17","k":"r","r":12.55,"m":1},{"g":"n17","k":"r","r":12.35,"m":1.45},{"g":"n17","k":"r","r":12.1,"m":1.85},{"g":"n17","k":"r","r":11.7,"m":2.13},{"g":"n17","k":"r","r":11.3,"m":2.18},{"g":"n17","k":"r","r":11.1,"m":2.18},
{"g":"n18","k":"b","r":13.15,"m":1},{"g":"n18","k":"b","r":13.35,"m":1.5},{"g":"n18","k":"b","r":13.4,"m":1.95},{"g":"n18","k":"b","r":13.2,"m":2.3},{"g":"n18","k":"b","r":12.8,"m":2.36},{"g":"n18","k":"b","r":12.55,"m":2.36},
{"g":"n19","k":"b","r":11.9,"m":1},{"g":"n19","k":"b","r":12.1,"m":1.45},{"g":"n19","k":"b","r":12.15,"m":1.85},{"g":"n19","k":"b","r":11.95,"m":2.12},{"g":"n19","k":"b","r":11.6,"m":2.17},{"g":"n19","k":"b","r":11.35,"m":2.17},
{"g":"n20","k":"r","r":12.1,"m":1},{"g":"n20","k":"r","r":12.3,"m":1.5},{"g":"n20","k":"r","r":12.4,"m":1.95},{"g":"n20","k":"r","r":12.2,"m":2.28},{"g":"n20","k":"r","r":11.8,"m":2.34},{"g":"n20","k":"r","r":11.55,"m":2.34},
{"g":"n21","k":"b","r":13.25,"m":1},{"g":"n21","k":"b","r":13.45,"m":1.5},{"g":"n21","k":"b","r":13.5,"m":2.0},{"g":"n21","k":"b","r":13.3,"m":2.4},{"g":"n21","k":"b","r":12.9,"m":2.47},{"g":"n21","k":"b","r":12.6,"m":2.47},
{"g":"n22","k":"b","r":12.4,"m":1},{"g":"n22","k":"b","r":12.2,"m":1.45},{"g":"n22","k":"b","r":11.95,"m":1.85},{"g":"n22","k":"b","r":11.55,"m":2.1},{"g":"n22","k":"b","r":11.15,"m":2.15},{"g":"n22","k":"b","r":10.95,"m":2.15},
{"g":"n23","k":"r","r":13.2,"m":1},{"g":"n23","k":"r","r":13.4,"m":1.5},{"g":"n23","k":"r","r":13.45,"m":1.95},{"g":"n23","k":"r","r":13.25,"m":2.3},{"g":"n23","k":"r","r":12.85,"m":2.38},{"g":"n23","k":"r","r":12.6,"m":2.38},
{"g":"n24","k":"b","r":12.85,"m":1},{"g":"n24","k":"b","r":12.65,"m":1.5},{"g":"n24","k":"b","r":12.4,"m":1.95},{"g":"n24","k":"b","r":12.0,"m":2.3},{"g":"n24","k":"b","r":11.6,"m":2.36},{"g":"n24","k":"b","r":11.4,"m":2.36},
{"g":"n25","k":"b","r":13.4,"m":1},{"g":"n25","k":"b","r":13.2,"m":1.5},{"g":"n25","k":"b","r":12.95,"m":1.95},{"g":"n25","k":"b","r":12.6,"m":2.2},{"g":"n25","k":"b","r":12.2,"m":2.25},{"g":"n25","k":"b","r":12.0,"m":2.25},
{"g":"n26","k":"r","r":12.65,"m":1},{"g":"n26","k":"r","r":12.9,"m":1.5},{"g":"n26","k":"r","r":13.0,"m":2.0},{"g":"n26","k":"r","r":12.85,"m":2.45},{"g":"n26","k":"r","r":12.4,"m":2.52},{"g":"n26","k":"r","r":12.1,"m":2.52},
{"g":"n27","k":"b","r":12.3,"m":1},{"g":"n27","k":"b","r":12.55,"m":1.5},{"g":"n27","k":"b","r":12.7,"m":2.0},{"g":"n27","k":"b","r":12.55,"m":2.45},{"g":"n27","k":"b","r":12.1,"m":2.52},{"g":"n27","k":"b","r":11.8,"m":2.52},
{"g":"n28","k":"b","r":13.0,"m":1},{"g":"n28","k":"b","r":13.2,"m":1.5},{"g":"n28","k":"b","r":13.25,"m":1.95},{"g":"n28","k":"b","r":13.1,"m":2.28},{"g":"n28","k":"b","r":12.7,"m":2.33},{"g":"n28","k":"b","r":12.45,"m":2.33},
{"g":"n29","k":"r","r":11.95,"m":1},{"g":"n29","k":"r","r":12.2,"m":1.5},{"g":"n29","k":"r","r":12.3,"m":1.9},{"g":"n29","k":"r","r":12.1,"m":2.22},{"g":"n29","k":"r","r":11.7,"m":2.27},{"g":"n29","k":"r","r":11.5,"m":2.27},
{"g":"n30","k":"b","r":13.05,"m":1},{"g":"n30","k":"b","r":12.85,"m":1.5},{"g":"n30","k":"b","r":12.55,"m":1.95},{"g":"n30","k":"b","r":12.1,"m":2.3},{"g":"n30","k":"b","r":11.65,"m":2.35},{"g":"n30","k":"b","r":11.4,"m":2.35}
],
"box": [{"r":9.86,"r2":11.791,"m":0.916,"m2":1.528}],
"label": [
{"t":"Preliminary. DM, J.","r":10.83,"m":1.353},
{"t":"Noronha-Hostler,","r":10.83,"m":1.159},
{"t":"N. Yunes, C. Miller","r":10.835,"m":0.967}
]
},
"layer": [
{
"data": {"name": "curves"},
"mark": {"type": "line", "interpolate": "basis", "strokeWidth": 3.2, "opacity": 0.5, "clip": true},
"encoding": {
"x": {"field": "r", "type": "quantitative", "title": "R [km]",
"scale": {"domain": [9.875, 14.013], "nice": false, "zero": false},
"axis": {"values": [10, 10.5, 11, 11.5, 12, 12.5, 13, 13.5, 14], "format": ".1f", "grid": false, "domain": false,
"labelFont": "DejaVu Sans", "labelFontSize": 46, "labelColor": "#000000", "labelPadding": 6, "labelFlush": false, "labelOverlap": false,
"tickSize": 7, "tickWidth": 1.5, "tickColor": "#333333",
"titleFont": "DejaVu Sans", "titleFontSize": 46, "titleFontWeight": "normal", "titleColor": "#000000", "titlePadding": 8}},
"y": {"field": "m", "type": "quantitative", "title": "M[M⊙]",
"scale": {"domain": [0.91, 2.89], "nice": false, "zero": false},
"axis": {"values": [1, 1.25, 1.5, 1.75, 2, 2.25, 2.5, 2.75], "format": ".2f", "grid": false, "domain": false,
"labelFont": "DejaVu Sans", "labelFontSize": 46, "labelColor": "#000000", "labelPadding": 9, "labelFlush": false, "labelOverlap": false,
"tickSize": 7, "tickWidth": 1.5, "tickColor": "#333333",
"titleFont": "DejaVu Sans", "titleFontSize": 44, "titleFontWeight": "normal", "titleFontStyle": "italic", "titleColor": "#000000", "titlePadding": 18}},
"color": {"field": "k", "type": "nominal", "scale": {"domain": ["b", "r"], "range": ["#00008b", "#8b0000"]}, "legend": null},
"detail": {"field": "g"},
"order": {"value": null}
}
},
{
"data": {"name": "box"},
"mark": {"type": "rect", "fill": "#c4483a", "opacity": 1},
"encoding": {
"x": {"field": "r", "type": "quantitative", "title": "R [km]"},
"x2": {"field": "r2"},
"y": {"field": "m", "type": "quantitative", "title": "M[M⊙]"},
"y2": {"field": "m2"}
}
},
{
"data": {"name": "label"},
"mark": {"type": "text", "font": "Liberation Sans", "fontSize": 87, "fill": "#ffffff", "stroke": "#ffffff", "strokeWidth": 0.8, "align": "center", "baseline": "alphabetic"},
"encoding": {
"x": {"field": "r", "type": "quantitative", "title": "R [km]"},
"y": {"field": "m", "type": "quantitative", "title": "M[M⊙]"},
"text": {"field": "t"}
}
}
]
}
